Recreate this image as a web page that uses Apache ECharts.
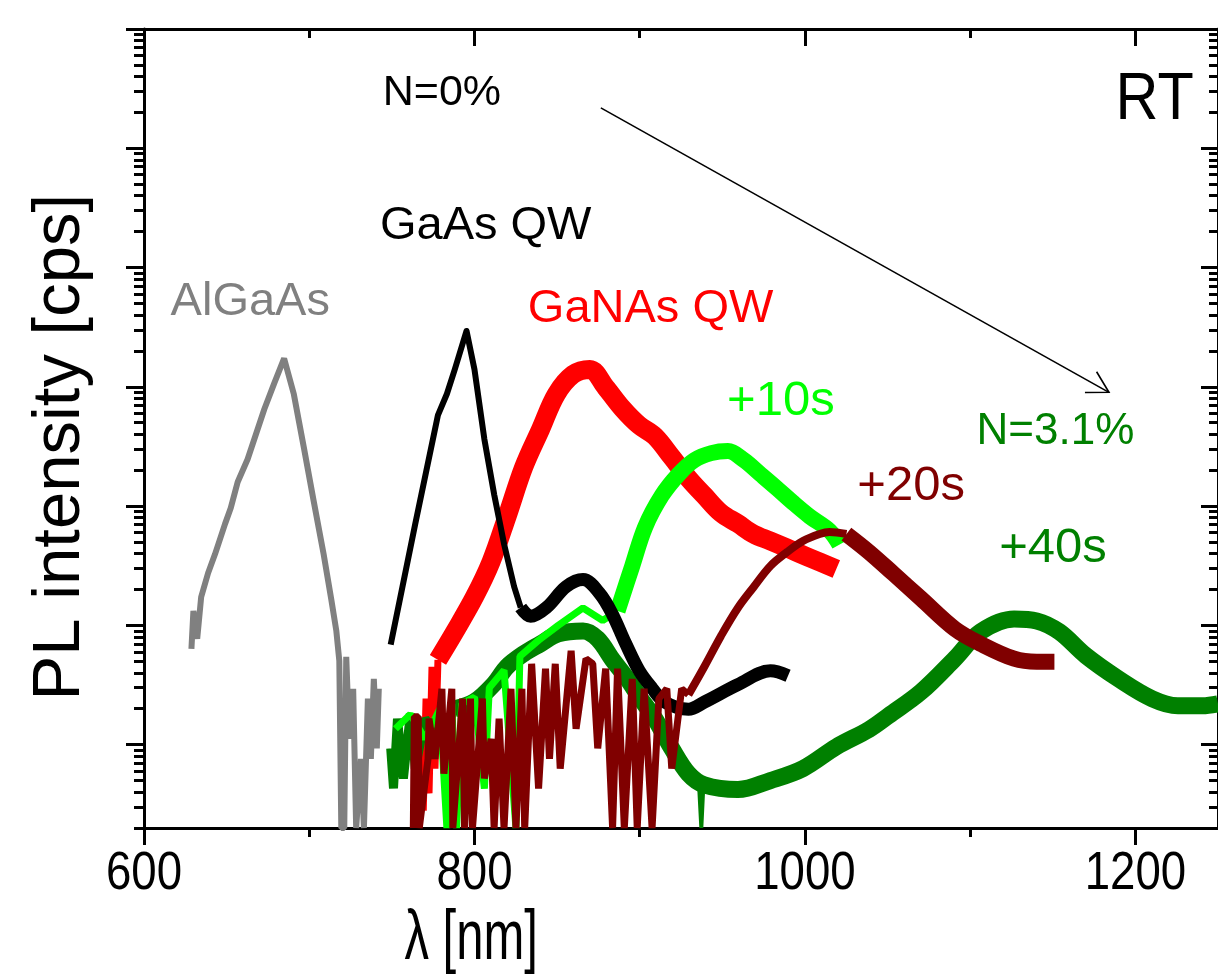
<!DOCTYPE html>
<html><head><meta charset="utf-8">
<script src="https://cdn.jsdelivr.net/npm/echarts@6/dist/echarts.min.js"></script>
<style>html,body{margin:0;padding:0;background:#fff}#c{width:1218px;height:980px}</style>
</head><body><div id="c"></div>
<script>
// ---------- axis ranges & tick values ----------
const X_MIN = 600, X_MAX = 1250;
const Y_MIN = 2, Y_MAX = 1e7;
const xMajorTicks = [600, 800, 1000, 1200];
const xMinorTicks = [700, 900, 1100];
const yDecadeTicks = [10, 100, 1000, 1e4, 1e5, 1e6, 1e7];
const yMinorDecades = [1, 10, 100, 1000, 1e4, 1e5, 1e6];
const yMinorMultipliers = [2, 3, 4, 5, 6, 7, 8, 9];

// ---------- series data: [wavelength nm, PL intensity] ----------
const algaas = [[628.7,63.6],[629.9,132],[632.2,77.1],[634.6,173],[638.8,275],[643.0,396],[649.0,706],[652.5,962],[656.7,1590],[662.7,2470],[672.8,6490],[678.8,10700],[684.8,17300],[690.7,8650],[696.7,3120],[702.7,1100],[708.7,396],[713.4,163],[716.4,89.9],[718.2,50.5],[719.4,2],[721.2,2],[722.4,54.5],[724.2,11.2],[726.6,29.4],[728.4,2],[731.3,7.6],[733.1,2],[735.5,24.3],[737.3,7.6],[739.1,35.6],[740.9,9.3],[742.1,29.4]];

const gaasPeak = [[749.3,69],[764.2,713],[777.9,5790],[783.3,8710],[788.1,14000],[795.2,29400],[800.0,14000],[806.0,3640],[812.0,1236],[818.0,475],[824.0,211],[828.0,141]];
const gaasTail = [[828.0,141],[834.0,119],[843.6,141],[855.5,211],[865.7,242],[875.8,185],[883.6,123],[891.3,71.5],[899.7,41.6],[907.5,29.7],[915.2,22.7],[929.5,19.8],[939.1,22.7],[959.4,31.8],[979.1,41.6],[989.8,37.8]];

const ganasLow = [[769.0,2.8],[770.7,24.3],[772.5,3.9],[774.3,45],[776.1,6.3],[777.9,51.4]];
const ganasMain = [[777.9,51.4],[788,88],[800,173],[810,340],[819.7,817],[829.8,2120],[840,4400],[849.5,8650],[859.7,12700],[869.8,14000],[879.4,9900],[889.5,6600],[899.7,4760],[909.2,3850],[919.4,2570],[929.5,1710],[939.1,1225],[949.2,874],[959.4,713],[969,583],[979.1,510],[989.2,445],[998.8,389],[1009,340],[1019,297]];

const s10Low = [[752.2,13.6],[761.2,18],[770.1,11.2],[779.1,20],[783.3,2],[786.3,22],[789.2,2],[792.2,22],[800,25],[806,4.28],[809,30],[817.9,42],[825.1,2],[827.5,55],[838.8,75],[850.7,100],[865.7,140],[877.6,110],[886.6,132]];
const s10Main = [[886.6,132],[895.5,315],[903.3,667],[913.4,1225],[923.6,1850],[933.1,2430],[943.3,2780],[953.4,2890],[963,2430],[973.1,1850],[983.3,1400],[992.8,1070],[1003,817],[1014.9,622],[1020.9,475]];

const s20Low = [[763.0,2],[763.6,17.1],[766.0,17.1],[766.6,2],[771.9,7.6],[772.5,16.5],[776.1,7.6],[780.3,29.4],[781.5,5.7],[786.3,29.4],[786.9,2],[792.8,24.3],[794.0,2],[797.6,24.3],[798.8,2],[804.8,24.3],[806.0,5.2],[810.1,11.2],[811.9,2],[814.9,16.5],[817.9,2],[822.1,29.4],[825.1,2],[828.7,29.4],[830.4,2],[834.6,47.6],[838.8,4.28],[843.0,43.3],[845.4,7.6],[848.9,47.6],[851.9,6.3],[858.5,61.2],[861.5,13.6],[867.5,52.5],[871.6,47.6],[874.6,9.3],[879.4,43.3],[883.6,2],[886.6,43.3],[890.7,2],[895.5,35.6],[898.5,2],[902.7,29.4],[907.5,2],[911.6,24.3],[916.4,29.4],[919.4,6.3],[925.4,29.4],[929.5,26.2]];
const s20Main = [[929.5,26.2],[939.1,45],[949.2,81.6],[959.4,140],[969.0,210],[979.1,315],[989.2,412],[998.8,510],[1008.9,583],[1014.9,606],[1025.1,583]];
const s20Tail = [[1025.1,583],[1038.8,412],[1053.7,270],[1070.4,167],[1090.7,93.5],[1106.3,70],[1126.6,52.5],[1140.3,49.5],[1151,49.5]];

const s40Low = [[749.3,9.3],[751.0,4.3],[753.4,16.5],[757.0,5.2],[761.2,18.2],[764.2,6.3],[770.1,16.5],[779.1,11.2],[788.1,20]];
const s40Main = [[788.1,20],[800,22.9],[811.9,32.4],[819.7,45],[829.8,57.8],[840,70],[850.7,84.9],[865.7,89.9],[874.6,77.1],[883.6,51.4],[892.5,35.6],[899.7,25.2],[909.2,16.5],[919.4,9.3],[929.5,5.7],[939.1,4.6],[959.4,4.2],[979.1,5.0],[998.8,6.3],[1019.1,9.6],[1038.8,13.4],[1050.7,17.5],[1070.4,27.8],[1090.7,52.5],[1106.3,88.3],[1126.6,113],[1140.3,109],[1154,88.3],[1170.1,55.6],[1189.8,35.6],[1210.1,24.3],[1225.7,21.2],[1240.6,21.2],[1250,22]];
const s40Spike = [[935.8,5.0],[937.3,2],[938.6,4.8]];

// ---------- annotation texts (anchored in data coordinates) ----------
const annoTexts  = ['N=0%', 'GaAs QW', 'AlGaAs', 'GaNAs QW', '+10s', 'N=3.1%', '+20s', '+40s', 'RT'];
const annoAnchor = [[744.5,2.91e6],[742.8,2.24e5],[616.1,5.09e4],[832.3,4.46e4],[952.9,7570],[1103.9,4160],[1031.7,1470],[1117.6,445],[1188,2.49e6]];
const arrowFrom = [876.5, 2.18e6], arrowTo = [1184, 8990];
const xAxisTitle = 'λ [nm]', yAxisTitle = 'PL intensity [cps]';

// ---------- build chart ----------
const yMinorTicks = [];
yMinorDecades.forEach(d => yMinorMultipliers.forEach(m => yMinorTicks.push(m * d)));

const chart = echarts.init(document.getElementById('c'), null, {renderer: 'canvas'});
const BLACK = '#000';
function xAx(pos, ticks, len, inside, line) {
  return {type:'value', min:X_MIN, max:X_MAX, position:pos,
    axisLine:{show:line, onZero:false, lineStyle:{color:BLACK, width:3}},
    axisTick:{show:true, inside:inside, length:len, customValues:ticks, lineStyle:{color:BLACK, width:3}},
    axisLabel:{show:false}, splitLine:{show:false}};
}
function yAx(pos, ticks, len, inside, line) {
  return {type:'log', logBase:10, min:Y_MIN, max:Y_MAX, position:pos,
    axisLine:{show:line, onZero:false, lineStyle:{color:BLACK, width:3}},
    axisTick:{show:true, inside:inside, length:len, customValues:ticks, lineStyle:{color:BLACK, width:3}},
    axisLabel:{show:false}, splitLine:{show:false}};
}
function ser(name, data, color, width, join, smooth) {
  return {type:'line', name:name, data:data, xAxisIndex:0, yAxisIndex:0, showSymbol:false, symbol:'none',
    silent:true, animation:false, clip:true, smooth:smooth || false,
    lineStyle:{color:color, width:width, join:join || 'round', cap:'butt'}, emphasis:{disabled:true}};
}
const GRAY='#808080', RED='#ff0000', LIME='#00ff00', DRED='#800000', GREEN='#008000';

chart.setOption({
  animation:false,
  backgroundColor:'#fff',
  grid:{left:144, top:29, width:1091, height:799, containLabel:false},
  xAxis:[xAx('bottom', xMajorTicks, 17, false, true), xAx('bottom', xMinorTicks, 9, false, false),
         xAx('top', xMajorTicks, 17, true, true), xAx('top', xMinorTicks, 9, true, false)],
  yAxis:[yAx('left', yDecadeTicks, 18, false, true), yAx('left', yMinorTicks, 10, false, false),
         yAx('right', yDecadeTicks, 17, true, true), yAx('right', yMinorTicks, 9, true, false)],
  series:[
    ser('AlGaAs', algaas, GRAY, 6, 'bevel'),
    ser('GaNAs QW low', ganasLow, RED, 7, 'bevel'),
    ser('GaNAs QW', ganasMain, RED, 19, 'round', 0.35),
    ser('+40s low', s40Low, GREEN, 9, 'bevel'),
    ser('+40s', s40Main, GREEN, 17, 'round', 0.35),
    ser('+40s spike', s40Spike, GREEN, 4, 'bevel'),
    ser('+10s low', s10Low, LIME, 7, 'bevel'),
    ser('+10s', s10Main, LIME, 16, 'round', 0.35),
    ser('GaAs QW', gaasPeak, BLACK, 6),
    ser('GaAs QW tail', gaasTail, BLACK, 13, 'round', 0.35),
    ser('+20s low', s20Low, DRED, 7, 'bevel'),
    ser('+20s', s20Main, DRED, 8, 'round', 0.35),
    ser('+20s tail', s20Tail, DRED, 16, 'round', 0.35)
  ]
});

// ---------- text & arrow overlay placed through the axes ----------
const px = v => chart.convertToPixel({xAxisIndex:0}, v);
const py = v => chart.convertToPixel({yAxisIndex:0}, v);
const FONT = '"Liberation Sans", Arial, sans-serif';
function txt(t, x, y, size, color, opts) {
  opts = opts || {};
  return {type:'text', x:x, y:y, scaleX:opts.scaleX || 1, rotation:opts.rotation || 0, silent:true, z:100,
    style:{text:t, x:0, y:0, fontSize:size, fontFamily:FONT, fill:color,
      align:opts.align || 'left', verticalAlign:'middle', textAlign:opts.align || 'left', textVerticalAlign:'middle'}};
}
const g = [];
const yBottom = py(Y_MIN), xLeft = px(X_MIN);
xMajorTicks.forEach(v => g.push(txt(String(v), px(v), yBottom + 46, 53, BLACK, {align:'center', scaleX:0.86})));
g.push(txt(xAxisTitle, px(798), yBottom + 112, 70, BLACK, {align:'center', scaleX:0.7}));
g.push(txt(yAxisTitle, xLeft - 83, py(3120), 67, BLACK, {align:'center', rotation:Math.PI/2}));
const annoStyle = [[43,BLACK,1],[47,BLACK,1],[47,GRAY,1],[47,RED,1],[49,LIME,1],[44,GREEN,1],[49,DRED,1],[49,GREEN,1],[66,BLACK,0.9]];
annoTexts.forEach((t, i) => {
  const s = annoStyle[i];
  g.push(txt(t, px(annoAnchor[i][0]), py(annoAnchor[i][1]), s[0], s[1], {scaleX:s[2]}));
});
const a0 = [px(arrowFrom[0]), py(arrowFrom[1])], a1 = [px(arrowTo[0]), py(arrowTo[1])];
const ang = Math.atan2(a1[1]-a0[1], a1[0]-a0[0]);
const L = 24, spread = 0.52;
g.push({type:'line', silent:true, z:100, shape:{x1:a0[0], y1:a0[1], x2:a1[0], y2:a1[1]}, style:{stroke:BLACK, lineWidth:1.6}});
g.push({type:'polyline', silent:true, z:100, shape:{points:[
  [a1[0] - L*Math.cos(ang - spread), a1[1] - L*Math.sin(ang - spread)], a1,
  [a1[0] - L*Math.cos(ang + spread), a1[1] - L*Math.sin(ang + spread)]]}, style:{stroke:BLACK, lineWidth:1.6, fill:null}});
chart.setOption({graphic:g});
</script></body></html>
